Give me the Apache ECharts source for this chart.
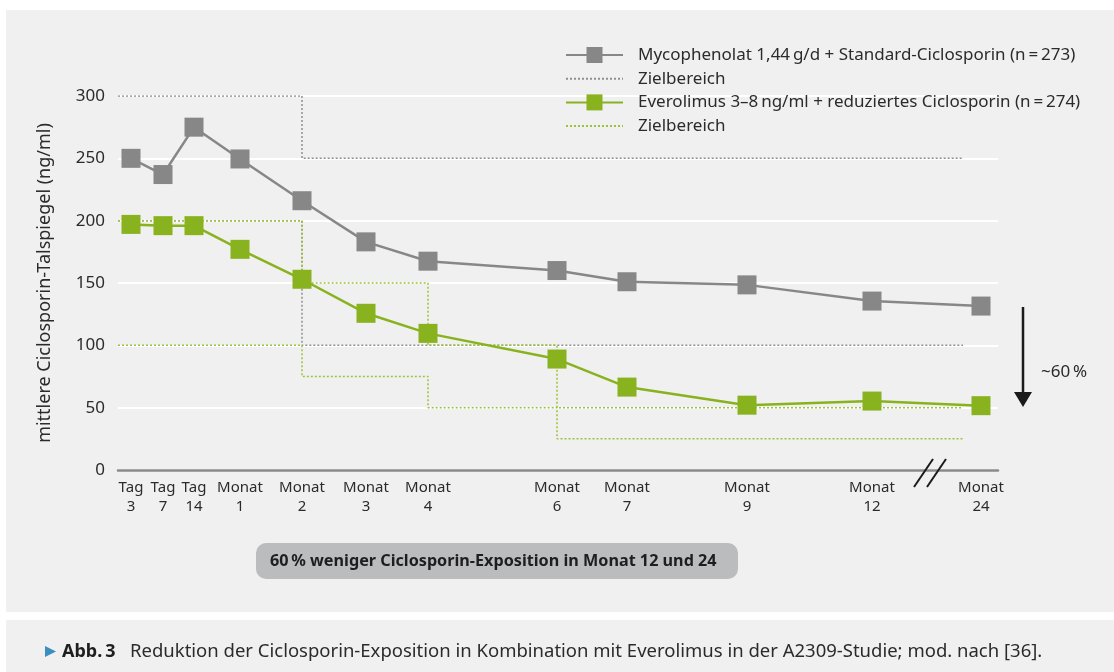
<!DOCTYPE html>
<html>
<head>
<meta charset="utf-8">
<script src="https://cdn.jsdelivr.net/npm/echarts@6/dist/echarts.min.js"></script>
<style>
  html, body { margin: 0; padding: 0; background: #fff; }
  #chart { width: 1114px; height: 672px; }
</style>
</head>
<body>
<div id="chart"></div>
<script>
// Zeitpunkte (Position auf der gestauchten x-Achse) und Beschriftungen
const xPos = [1.3, 4.5, 7.6, 12.2, 18.4, 24.8, 31.0, 43.9, 50.9, 62.9, 75.4, 86.3]
const xLabels = ['Tag\n3', 'Tag\n7', 'Tag\n14', 'Monat\n1', 'Monat\n2', 'Monat\n3', 'Monat\n4',
  'Monat\n6', 'Monat\n7', 'Monat\n9', 'Monat\n12', 'Monat\n24']

// mittlere Talspiegel (ng/ml)
const mycophenolat = [250, 237, 275, 249.5, 216, 183, 167.5, 160, 151, 148.5, 135.5, 131.5]
const everolimus = [197, 196, 196, 177, 153, 125.7, 109.6, 89, 66.5, 52, 55.3, 51.6]

// Zielbereiche: Wechsel bei Monat 2 / 4 / 6
const zielEnde = 84.5
const zielGrauWechsel = [xPos[4]]
const zielGrauOben = [300, 250]
const zielGrauUnten = [200, 100]
const zielGruenWechsel = [xPos[4], xPos[6], xPos[7]]
const zielGruenOben = [200, 150, 100, 50]
const zielGruenUnten = [100, 75, 50, 25]

const grau = '#878787'
const gruen = '#88b21e'
const nameA = 'Mycophenolat 1,44\u2009g/d + Standard-Ciclosporin (n\u2009=\u2009273)'
const nameB = 'Everolimus 3–8\u2009ng/ml + reduziertes Ciclosporin (n\u2009=\u2009274)'

function stufen(wechsel, werte) {
  const pts = [[0, werte[0]]]
  wechsel.forEach((x, i) => {
    pts.push([x, werte[i]], [x, werte[i + 1]])
  })
  pts.push([zielEnde, werte[werte.length - 1]])
  return pts
}

function zielSerie(name, color, data, z) {
  return {
    name: name,
    type: 'line',
    symbol: 'none',
    silent: true,
    z: z,
    lineStyle: { color: color, width: 1.5, type: [2, 2] },
    itemStyle: { color: color },
    data: data
  }
}

function hauptSerie(name, color, values) {
  return {
    name: name,
    type: 'line',
    symbol: 'rect',
    symbolSize: 19,
    z: 5,
    lineStyle: { color: color, width: 2.5 },
    itemStyle: { color: color },
    data: values.map((v, i) => [xPos[i], v])
  }
}

const chart = echarts.init(document.getElementById('chart'))
chart.setOption({
  backgroundColor: '#fff',
  animation: false,
  textStyle: { fontFamily: 'Noto Sans' },
  grid: { left: 118, right: 116, top: 96, bottom: 202 },
  legend: {
    orient: 'vertical',
    left: 565,
    top: 45,
    padding: 0,
    itemWidth: 57,
    itemHeight: 20,
    itemGap: 3.7,
    data: [
      nameA,
      { name: 'Ziel A', itemStyle: { opacity: 0 } },
      nameB,
      { name: 'Ziel B', itemStyle: { opacity: 0 } }
    ],
    formatter: n => (n.indexOf('Ziel') === 0 ? 'Zielbereich' : n),
    textStyle: { color: '#2b2b2b', fontSize: 17, lineHeight: 20, fontFamily: 'Noto Sans', padding: [0, 0, 0, 10] }
  },
  xAxis: {
    type: 'value',
    min: 0,
    max: 88,
    splitLine: { show: false },
    axisTick: { show: false },
    axisLine: { lineStyle: { color: '#8a8a8a', width: 2.5 } },
    axisLabel: {
      customValues: xPos,
      formatter: v => xLabels[xPos.indexOf(v)] || '',
      color: '#2b2b2b',
      fontSize: 15,
      lineHeight: 19,
      margin: 8
    }
  },
  yAxis: {
    type: 'value',
    min: 0,
    max: 300,
    interval: 50,
    name: 'mittlere Ciclosporin-Talspiegel (ng/ml)',
    nameLocation: 'middle',
    nameRotate: 90,
    nameGap: 64,
    nameTextStyle: { color: '#2b2b2b', fontSize: 18 },
    axisLine: { show: false },
    axisTick: { show: false },
    axisLabel: { color: '#2b2b2b', fontSize: 17, margin: 13 },
    splitLine: { lineStyle: { color: '#ffffff', width: 2 } }
  },
  series: [
    zielSerie('Ziel A', '#8f8f8f', stufen(zielGrauWechsel, zielGrauOben), 2),
    zielSerie('Ziel A', '#8f8f8f', stufen(zielGrauWechsel, zielGrauUnten), 2),
    zielSerie('Ziel B', '#9cc23a', stufen(zielGruenWechsel, zielGruenOben), 3),
    zielSerie('Ziel B', '#9cc23a', stufen(zielGruenWechsel, zielGruenUnten), 3),
    hauptSerie(nameA, grau, mycophenolat),
    hauptSerie(nameB, gruen, everolimus)
  ],
  graphic: [
    // Hintergrundflächen
    { type: 'rect', z: -10, silent: true, shape: { x: 6, y: 10, width: 1108, height: 602 }, style: { fill: '#f0f0f0' } },
    { type: 'rect', z: -10, silent: true, shape: { x: 6, y: 620, width: 1108, height: 52 }, style: { fill: '#f0f0f0' } },
    // Achsenbruch
    { type: 'line', z: 10, shape: { x1: 933, y1: 459, x2: 914, y2: 487 }, style: { stroke: '#1a1a1a', lineWidth: 2 } },
    { type: 'line', z: 10, shape: { x1: 946, y1: 459, x2: 927, y2: 487 }, style: { stroke: '#1a1a1a', lineWidth: 2 } },
    // Pfeil ~60 %
    { type: 'line', z: 10, shape: { x1: 1023, y1: 307, x2: 1023, y2: 394 }, style: { stroke: '#1a1a1a', lineWidth: 2.5 } },
    { type: 'polygon', z: 10, shape: { points: [[1014, 392], [1032, 392], [1023, 407]] }, style: { fill: '#1a1a1a' } },
    { type: 'text', z: 10, x: 1041, y: 372, style: { text: '~60\u2009%', fill: '#2b2b2b', font: '17px "Noto Sans"', verticalAlign: 'middle' } },
    // Hinweisbalken
    { type: 'rect', z: 10, shape: { x: 256, y: 543, width: 482, height: 36, r: 10 }, style: { fill: '#bbbcbd' } },
    { type: 'text', z: 11, x: 270, y: 561, style: { text: '60\u2009% weniger Ciclosporin-Exposition in Monat 12 und 24', fill: '#1e1e1e', font: 'bold 16.2px "Noto Sans"', verticalAlign: 'middle' } },
    // Bildunterschrift
    { type: 'polygon', z: 10, shape: { points: [[45, 646], [56, 651.5], [45, 657]] }, style: { fill: '#3a8fbf' } },
    { type: 'text', z: 10, x: 62, y: 652, style: { text: 'Abb.\u20093', fill: '#1e1e1e', font: 'bold 18px "Noto Sans"', verticalAlign: 'middle' } },
    { type: 'text', z: 10, x: 130, y: 652, style: { text: 'Reduktion der Ciclosporin-Exposition in Kombination mit Everolimus in der A2309-Studie; mod. nach [36].', fill: '#2b2b2b', font: '18.5px "Noto Sans"', verticalAlign: 'middle' } }
  ]
})
</script>
</body>
</html>
